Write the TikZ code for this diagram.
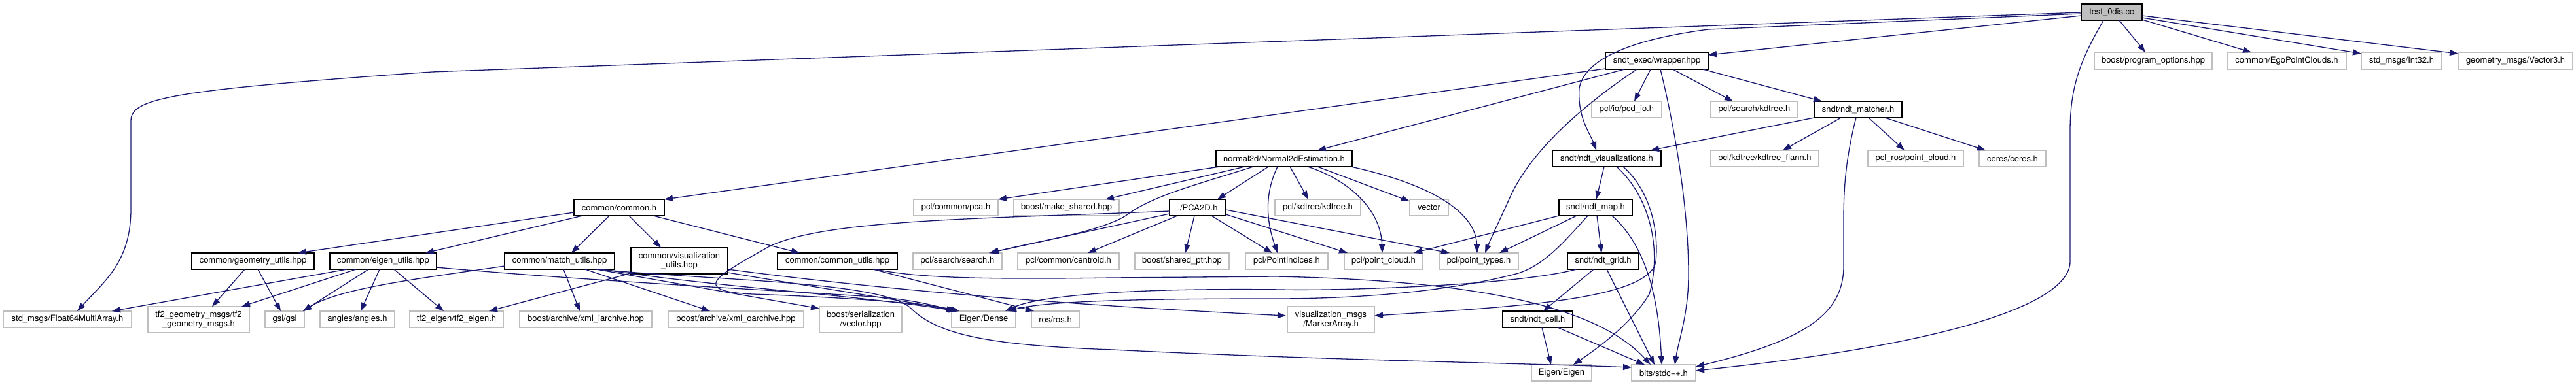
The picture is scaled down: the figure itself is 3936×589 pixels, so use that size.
\documentclass[tikz,border=0pt]{standalone}
\usepackage{fontspec}
\setmainfont{TeX Gyre Heros}
\usetikzlibrary{calc,arrows.meta}
\definecolor{edgec}{HTML}{191970}
\definecolor{gb}{HTML}{BFBFBF}
\newcommand\bx[7]{\node[#6,minimum width={(#4-#2)*0.5pt},minimum height={(#5-#3)*0.5pt}] (#1) at ({(#2+#4)/2},{(#3+#5)/2}) {#7};}
\begin{document}
\begin{tikzpicture}[x=0.5pt,y=-0.5pt,font=\fontsize{6.5}{7}\selectfont,
  basebox/.style={inner sep=0pt,outer sep=0pt,align=center,line width=0.7pt,fill=white},
  doc/.style={basebox,draw=black},
  ext/.style={basebox,draw=gb},
  root/.style={basebox,draw=black,fill=gb},
  e/.style={draw=edgec,line width=0.65pt,-{Triangle[length=6.5pt,width=4.5pt]}}]
\useasboundingbox (0,0) rectangle (3936,589);
\fill[white] (0,0) rectangle (3936,589);
% nodes
\bx{test}{3180}{6}{3273}{31}{root}{test\_0dis.cc}
\bx{wrap}{2453}{80}{2610}{106}{doc}{sndt\_exec/wrapper.hpp}
\bx{po}{3200}{80}{3380}{106}{ext}{boost/program\_options.hpp}
\bx{ego}{3403}{80}{3585}{106}{ext}{common/EgoPointClouds.h}
\bx{int32}{3608}{80}{3731}{106}{ext}{std\_msgs/Int32.h}
\bx{vec3}{3756}{80}{3931}{106}{ext}{geometry\_msgs/Vector3.h}
\bx{pcdio}{2432}{155}{2539}{180}{ext}{pcl/io/pcd\_io.h}
\bx{skd}{2614}{155}{2747}{180}{ext}{pcl/search/kdtree.h}
\bx{matcher}{2772}{155}{2906}{180}{doc}{sndt/ndt\_matcher.h}
\bx{n2d}{1858}{230}{2066}{255}{doc}{normal2d/Normal2dEstimation.h}
\bx{vis}{2372}{230}{2538}{255}{doc}{sndt/ndt\_visualizations.h}
\bx{flann}{2614}{230}{2779}{255}{ext}{pcl/kdtree/kdtree\_flann.h}
\bx{rospc}{2854}{230}{3000}{255}{ext}{pcl\_ros/point\_cloud.h}
\bx{ceres}{3024}{230}{3126}{255}{ext}{ceres/ceres.h}
\bx{common}{877}{305}{1015}{330}{doc}{common/common.h}
\bx{pca}{1396}{305}{1525}{330}{ext}{pcl/common/pca.h}
\bx{mkshared}{1549}{305}{1710}{330}{ext}{boost/make\_shared.hpp}
\bx{pca2d}{1787}{305}{1873}{330}{doc}{./PCA2D.h}
\bx{kdtree}{1948}{305}{2079}{330}{ext}{pcl/kdtree/kdtree.h}
\bx{vector}{2154}{305}{2213}{330}{ext}{vector}
\bx{map}{2382}{305}{2494}{330}{doc}{sndt/ndt\_map.h}
\bx{geomu}{293}{387}{480}{412}{doc}{common/geometry\_utils.hpp}
\bx{eigenu}{504}{387}{667}{412}{doc}{common/eigen\_utils.hpp}
\bx{matchu}{771}{387}{939}{412}{doc}{common/match\_utils.hpp}
\bx{visu}{964}{379}{1112}{419}{doc}{common/visualization\\\_utils.hpp}
\bx{comu}{1188}{387}{1371}{412}{doc}{common/common\_utils.hpp}
\bx{search}{1395}{387}{1531}{412}{ext}{pcl/search/search.h}
\bx{centroid}{1555}{387}{1710}{412}{ext}{pcl/common/centroid.h}
\bx{sptr}{1734}{387}{1878}{412}{ext}{boost/shared\_ptr.hpp}
\bx{pind}{1903}{387}{2029}{412}{ext}{pcl/PointIndices.h}
\bx{pcloud}{2054}{387}{2174}{412}{ext}{pcl/point\_cloud.h}
\bx{ptypes}{2199}{387}{2320}{412}{ext}{pcl/point\_types.h}
\bx{grid}{2395}{387}{2504}{412}{doc}{sndt/ndt\_grid.h}
\bx{f64}{5}{476}{201}{501}{ext}{std\_msgs/Float64MultiArray.h}
\bx{tf2gm}{226}{469}{381}{509}{ext}{tf2\_geometry\_msgs/tf2\\\_geometry\_msgs.h}
\bx{gsl}{405}{476}{465}{501}{ext}{gsl/gsl}
\bx{angles}{489}{476}{603}{501}{ext}{angles/angles.h}
\bx{tf2e}{626}{476}{769}{501}{ext}{tf2\_eigen/tf2\_eigen.h}
\bx{xmli}{794}{476}{996}{501}{ext}{boost/archive/xml\_iarchive.hpp}
\bx{xmlo}{1021}{476}{1228}{501}{ext}{boost/archive/xml\_oarchive.hpp}
\bx{serv}{1252}{469}{1378}{509}{ext}{boost/serialization\\/vector.hpp}
\bx{edense}{1454}{476}{1552}{501}{ext}{Eigen/Dense}
\bx{ros}{1576}{476}{1649}{501}{ext}{ros/ros.h}
\bx{marker}{1967}{469}{2100}{509}{ext}{visualization\_msgs\\/MarkerArray.h}
\bx{cell}{2296}{476}{2403}{501}{doc}{sndt/ndt\_cell.h}
\bx{eeigen}{2340}{558}{2432}{583}{ext}{Eigen/Eigen}
\bx{bits}{2493}{558}{2591}{583}{ext}{bits/stdc++.h}
% edges from test
\draw[e] ($(test.south west)+(0,-7)$) -- ($(wrap.north east)+(0,4)$);
\draw[e] ($(test.south west)+(0,-12)$) -- (660,110) .. controls (260,138) and (200,150) .. (200,185) -- (200,320) .. controls (200,400) and (160,430) .. ($(f64.north west)+(113,0)$);
\draw[e] ($(test.south west)+(0,-10)$) -- (2610,45) .. controls (2480,62) and (2420,95) .. (2413,135) .. controls (2410,180) and (2430,205) .. ($(vis.north west)+(67,0)$);
\draw[e] ($(test.south west)+(34,0)$) .. controls (3180,90) and (3163,130) .. (3163,200) -- (3163,400) .. controls (3163,470) and (2950,530) .. ($(bits.north east)+(0,9)$);
\draw[e] ($(test.south west)+(58,0)$) -- ($(po.north west)+(78,0)$);
\draw[e] ($(test.south east)+(0,-1)$) -- ($(ego.north west)+(37,0)$);
\draw[e] ($(test.south east)+(0,-4)$) -- ($(int32.north west)+(0,2)$);
\draw[e] ($(test.south east)+(0,-7)$) -- ($(vec3.north west)+(0,2)$);
% edges from wrapper
\draw[e] ($(wrap.south west)+(29,0)$) -- ($(n2d.north west)+(155,0)$);
\draw[e] ($(wrap.south west)+(0,-1)$) -- (common.north east);
\draw[e] ($(wrap.south west)+(48,0)$) .. controls (2420,160) and (2340,230) .. (2308,300) .. controls (2290,340) and (2280,360) .. ($(ptypes.north west)+(70,0)$);
\draw[e] ($(wrap.south west)+(69,0)$) -- ($(pcdio.north west)+(65,0)$);
\draw[e] ($(wrap.south west)+(84,0)$) .. controls (2560,200) and (2580,320) .. (2580,420) .. controls (2580,480) and (2565,520) .. ($(bits.north west)+(66,0)$);
\draw[e] ($(wrap.south west)+(103,0)$) -- ($(skd.north west)+(34,0)$);
\draw[e] ($(wrap.south east)+(-8,0)$) -- ($(matcher.north west)+(12,0)$);
% edges from matcher
\draw[e] (matcher.south west) -- ($(vis.north east)+(-16,0)$);
\draw[e] ($(matcher.south west)+(41,0)$) -- ($(flann.north west)+(110,0)$);
\draw[e] ($(matcher.south west)+(64,0)$) .. controls (2818,250) and (2817,300) .. (2817,340) -- (2817,410) .. controls (2815,480) and (2760,520) .. ($(bits.north east)+(0,3)$);
\draw[e] ($(matcher.south west)+(83,0)$) -- ($(rospc.north west)+(56,0)$);
\draw[e] ($(matcher.south west)+(108,0)$) -- ($(ceres.north west)+(10,0)$);
% edges from Normal2dEstimation
\draw[e] ($(n2d.south west)+(6,0)$) -- (pca.north east);
\draw[e] ($(n2d.south west)+(44,0)$) -- ($(mkshared.north west)+(140,0)$);
\draw[e] ($(n2d.south west)+(57,0)$) .. controls (1820,285) and (1760,300) .. (1720,330) .. controls (1680,355) and (1580,370) .. ($(search.north west)+(118,0)$);
\draw[e] ($(n2d.south west)+(80,0)$) -- ($(pca2d.north west)+(73,0)$);
\draw[e] ($(n2d.south west)+(94,0)$) .. controls (1935,290) and (1932,330) .. ($(pind.north west)+(49,0)$);
\draw[e] ($(n2d.south west)+(113,0)$) -- ($(kdtree.north west)+(51,0)$);
\draw[e] ($(n2d.south west)+(140,0)$) .. controls (2060,275) and (2110,320) .. ($(pcloud.north west)+(58,0)$);
\draw[e] ($(n2d.south west)+(155,0)$) -- ($(vector.north west)+(0,3)$);
\draw[e] ($(n2d.south east)+(-2,0)$) .. controls (2200,285) and (2255,330) .. ($(ptypes.north west)+(58,0)$);
% edges from PCA2D
\draw[e] ($(pca2d.south west)+(0,-3)$) -- ($(search.north west)+(116,0)$);
\draw[e] ($(pca2d.south west)+(12,0)$) -- ($(centroid.north west)+(107,0)$);
\draw[e] ($(pca2d.south west)+(38,0)$) -- ($(sptr.north west)+(77,0)$);
\draw[e] ($(pca2d.south west)+(64,0)$) -- ($(pind.north west)+(41,0)$);
\draw[e] ($(pca2d.south east)+(0,-2)$) -- ($(pcloud.north west)+(5,0)$);
\draw[e] ($(pca2d.south east)+(0,-9)$) -- ($(ptypes.north west)+(16,0)$);
\draw[e] ($(pca2d.south west)+(0,-7)$) .. controls (1500,335) and (1250,335) .. (1170,380) .. controls (1100,420) and (1050,445) .. (1150,450) .. controls (1300,455) and (1420,465) .. ($(edense.north west)+(12,0)$);
% edges from common.h
\draw[e] ($(common.south west)+(0,-5)$) -- ($(geomu.north east)+(-25,0)$);
\draw[e] ($(common.south west)+(13,0)$) -- ($(eigenu.north east)+(-17,0)$);
\draw[e] ($(common.south west)+(54,0)$) -- ($(matchu.north west)+(102,0)$);
\draw[e] ($(common.south west)+(84,0)$) -- ($(visu.north west)+(46,0)$);
\draw[e] ($(common.south east)+(-17,0)$) -- ($(comu.north west)+(34,0)$);
% geometry utils
\draw[e] ($(geomu.south west)+(81,0)$) -- ($(tf2gm.north west)+(98,0)$);
\draw[e] ($(geomu.south west)+(101,0)$) -- ($(gsl.north west)+(24,0)$);
% eigen utils
\draw[e] ($(eigenu.south west)+(26,0)$) -- ($(f64.north east)+(-30,0)$);
\draw[e] ($(eigenu.south west)+(40,0)$) -- ($(tf2gm.north east)+(-12,0)$);
\draw[e] ($(eigenu.south west)+(59,0)$) -- ($(gsl.north east)+(-2,0)$);
\draw[e] ($(eigenu.south west)+(76,0)$) -- ($(angles.north west)+(62,0)$);
\draw[e] ($(eigenu.south west)+(98,0)$) -- ($(tf2e.north west)+(52,0)$);
\draw[e] ($(eigenu.south east)+(0,-3)$) .. controls (900,430) and (1200,445) .. (1350,455) .. controls (1400,460) and (1430,468) .. ($(edense.north west)+(5,0)$);
% match utils
\draw[e] ($(matchu.south west)+(0,-5)$) .. controls (650,425) and (520,440) .. ($(gsl.north east)+(-2,0)$);
\draw[e] ($(matchu.south west)+(90,0)$) -- ($(xmli.north west)+(92,0)$);
\draw[e] ($(matchu.south west)+(123,0)$) -- ($(xmlo.north west)+(64,0)$);
\draw[e] ($(matchu.south west)+(140,0)$) -- ($(serv.north west)+(0,3)$);
\draw[e] ($(matchu.south east)+(-20,0)$) .. controls (1100,440) and (1300,450) .. ($(edense.north west)+(8,0)$);
\draw[e] ($(matchu.south east)+(-25,0)$) .. controls (1100,430) and (1340,430) .. (1390,470) .. controls (1430,510) and (1500,528) .. (1700,535) .. controls (2000,550) and (2300,555) .. ($(bits.north west)+(0,4)$);
% visualization utils
\draw[e] ($(visu.south west)+(0,-1)$) -- ($(tf2e.north east)+(-22,0)$);
\draw[e] ($(visu.south east)+(0,-7)$) .. controls (1400,450) and (1700,470) .. ($(marker.north west)+(-2,14)$);
\draw[e] ($(visu.south east)+(0,-2)$) .. controls (1250,440) and (1380,460) .. ($(edense.north west)+(10,0)$);
% common utils
\draw[e] ($(comu.south west)+(146,0)$) -- ($(ros.north west)+(4,0)$);
\draw[e] ($(comu.south west)+(150,0)$) .. controls (1400,425) and (1500,428) .. (1700,425) -- (1950,423) .. controls (2300,430) and (2450,480) .. ($(bits.north west)+(29,0)$);
% ndt map
\draw[e] (map.south west) -- ($(pcloud.north east)+(-14,0)$);
\draw[e] ($(map.south west)+(27,0)$) -- ($(ptypes.north west)+(92,0)$);
\draw[e] ($(map.south west)+(58,0)$) -- ($(grid.north west)+(52,0)$);
\draw[e] ($(map.south west)+(81,0)$) .. controls (2520,380) and (2535,470) .. ($(bits.north west)+(46,0)$);
\draw[e] ($(map.south west)+(44,0)$) .. controls (2390,370) and (2360,405) .. (2320,418) .. controls (2200,450) and (2050,457) .. (1950,457) .. controls (1750,457) and (1600,460) .. ($(edense.north east)+(-12,0)$);
% ndt grid
\draw[e] ($(grid.south west)+(40,0)$) -- ($(cell.north west)+(62,0)$);
\draw[e] ($(grid.south west)+(60,0)$) -- ($(bits.north west)+(35,0)$);
\draw[e] ($(grid.south west)+(14,0)$) .. controls (2300,440) and (2000,445) .. (1960,443) .. controls (1700,440) and (1580,455) .. ($(edense.north east)+(-16,0)$);
% ndt cell
\draw[e] ($(cell.south west)+(60,0)$) -- ($(eeigen.north west)+(30,0)$);
\draw[e] ($(cell.south west)+(84,0)$) -- ($(bits.north west)+(20,0)$);
% ndt visualizations
\draw[e] ($(vis.south west)+(79,0)$) -- ($(map.north west)+(57,0)$);
\draw[e] ($(vis.south west)+(108,0)$) .. controls (2520,290) and (2535,350) .. (2530,400) .. controls (2520,460) and (2300,470) .. ($(marker.north east)+(0,14)$);
\draw[e] ($(vis.south west)+(98,0)$) .. controls (2520,300) and (2540,380) .. (2520,450) .. controls (2490,500) and (2430,540) .. ($(eeigen.north west)+(64,0)$);
\end{tikzpicture}
\end{document}
